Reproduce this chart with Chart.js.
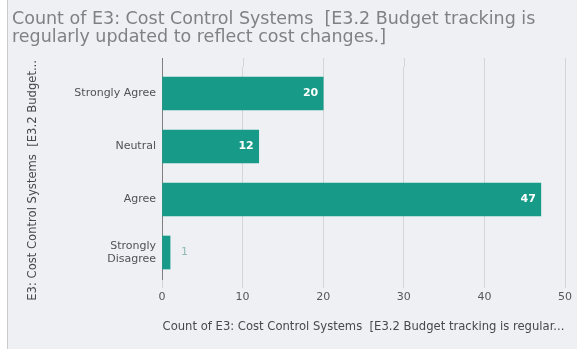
<!DOCTYPE html>
<html lang="en">
<head>
    <meta charset="UTF-8">
    <title>Count of E3: Cost Control Systems</title>
    <script src="https://cdn.jsdelivr.net/npm/chart.js"></script>
    <style>
        body {
            margin: 0;
            padding: 0;
            background-color: #ffffff;
            font-family: "DejaVu Sans", sans-serif;
        }

        .frame {
            position: absolute;
            left: 7px;
            top: 0;
            width: 569px;
            height: 349px;
            border-left: 1px solid #c9cbcd;
            background-color: #eef0f3;
        }
    </style>
</head>
<body>
<div class="frame">
    <canvas id="budget-chart" width="569" height="349"></canvas>
</div>
<script>
    var categories = ['Strongly Agree', 'Neutral', 'Agree', ['Strongly', 'Disagree']];
    var counts = [20, 12, 47, 1];
    var xTicks = [0, 10, 20, 30, 40, 50];

    var titleLines = [
        'Count of E3: Cost Control Systems  [E3.2 Budget tracking is',
        'regularly updated to reflect cost changes.]'
    ];
    var xTitle = 'Count of E3: Cost Control Systems  [E3.2 Budget tracking is regular...';
    // trailing spaces nudge the rotated title a bit lower
    var yTitle = 'E3: Cost Control Systems  [E3.2 Budget...    ';

    var barColor = '#179b88';

    // value labels: white inside long bars, muted outside short ones
    var valueLabels = {
        id: 'valueLabels',
        afterDatasetsDraw: function (chart) {
            var ctx = chart.ctx;
            var meta = chart.getDatasetMeta(0);
            ctx.save();
            ctx.textBaseline = 'middle';
            meta.data.forEach(function (bar, i) {
                var v = counts[i];
                if (v >= 5) {
                    ctx.font = 'bold 11px "DejaVu Sans"';
                    ctx.fillStyle = '#ffffff';
                    ctx.textAlign = 'right';
                    ctx.fillText(String(v), bar.x - 5, bar.y);
                } else {
                    ctx.font = '11px "DejaVu Sans"';
                    ctx.fillStyle = '#8fb9b2';
                    ctx.textAlign = 'left';
                    ctx.fillText(String(v), bar.x + 11, bar.y);
                }
            });
            ctx.restore();
        }
    };

    // grid lines and axis line run a little above the plot area
    var gridOverhang = {
        id: 'gridOverhang',
        beforeDatasetsDraw: function (chart) {
            var ctx = chart.ctx;
            var area = chart.chartArea;
            var xs = chart.scales.x;
            ctx.save();
            ctx.lineWidth = 1;
            xTicks.forEach(function (t) {
                var px = Math.round(xs.getPixelForValue(t)) + 0.5;
                ctx.strokeStyle = t === 0 ? '#7d7f81' : '#d3d6d9';
                ctx.beginPath();
                ctx.moveTo(px, area.top - 9);
                ctx.lineTo(px, area.top);
                ctx.stroke();
            });
            ctx.restore();
        }
    };

    new Chart(document.getElementById('budget-chart').getContext('2d'), {
        type: 'bar',
        data: {
            labels: categories,
            datasets: [{
                data: counts,
                backgroundColor: barColor,
                borderWidth: 0,
                barThickness: 33
            }]
        },
        options: {
            indexAxis: 'y',
            responsive: false,
            animation: false,
            layout: {
                padding: {left: 4, right: 12, top: 0, bottom: 0}
            },
            plugins: {
                legend: {display: false},
                tooltip: {enabled: false},
                title: {
                    display: true,
                    text: titleLines,
                    align: 'start',
                    color: '#7f8184',
                    font: {family: 'DejaVu Sans', size: 17.5, weight: 'normal', lineHeight: 1.0},
                    padding: {top: 11, bottom: 21}
                }
            },
            scales: {
                x: {
                    min: 0,
                    max: 50,
                    afterBuildTicks: function (scale) {
                        scale.ticks = xTicks.map(function (v) { return {value: v}; });
                    },
                    afterFit: function (scale) {
                        scale.height = 70;
                    },
                    grid: {
                        color: '#d3d6d9',
                        tickLength: 9,
                        drawTicks: true
                    },
                    border: {display: false},
                    ticks: {
                        color: '#555759',
                        padding: 3,
                        font: {family: 'DejaVu Sans', size: 11}
                    },
                    title: {
                        display: true,
                        text: xTitle,
                        color: '#47494b',
                        font: {family: 'DejaVu Sans', size: 11.6},
                        padding: {top: 4, bottom: 15}
                    }
                },
                y: {
                    afterFit: function (scale) {
                        scale.width = 150;
                    },
                    grid: {display: false, drawTicks: false},
                    border: {display: true, color: '#7d7f81', width: 1},
                    ticks: {
                        color: '#505254',
                        padding: 6,
                        font: {family: 'DejaVu Sans', size: 11}
                    },
                    title: {
                        display: true,
                        text: yTitle,
                        color: '#47494b',
                        font: {family: 'DejaVu Sans', size: 11.6},
                        padding: {top: 14, bottom: 0}
                    }
                }
            }
        },
        plugins: [gridOverhang, valueLabels]
    });
</script>
</body>
</html>
